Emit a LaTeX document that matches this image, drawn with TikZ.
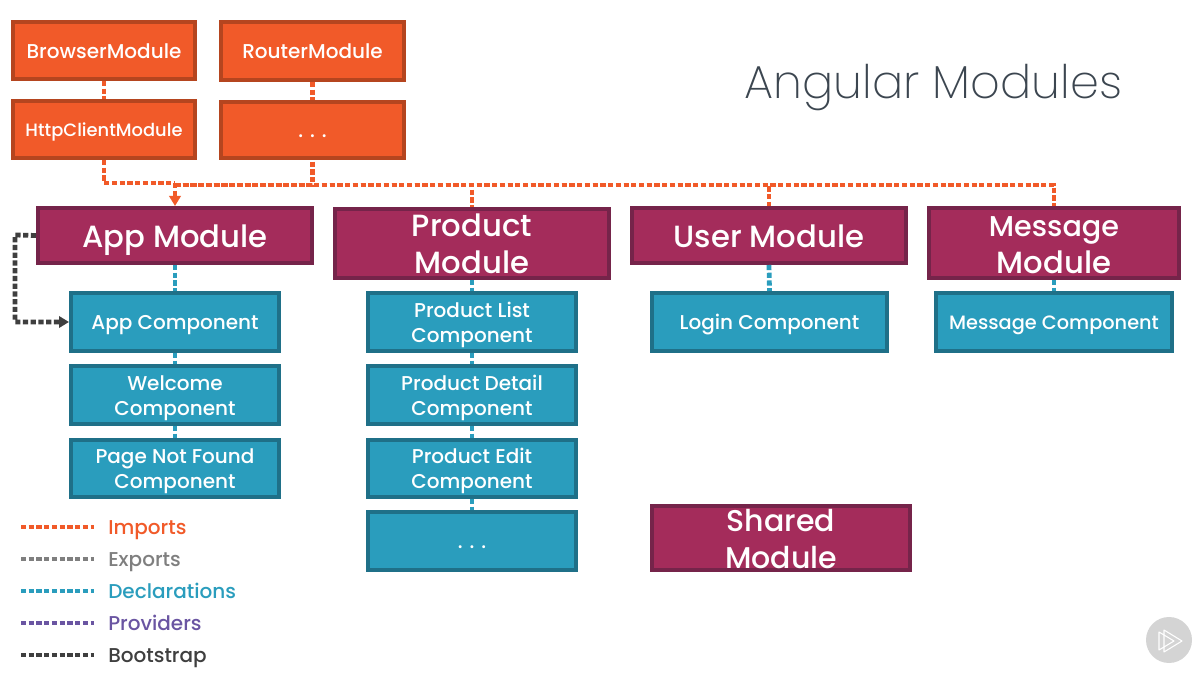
\documentclass[tikz,border=0pt]{standalone}
\usepackage{fontspec}
\usetikzlibrary{arrows.meta}
\setmainfont{Poppins Medium}
\newfontfamily\thinfont{Poppins ExtraLight}
\newcommand\tl[1]{\smash{\raisebox{-0.39em}{#1}}}
\definecolor{org}{HTML}{F15A29}\definecolor{orgd}{HTML}{B5451F}
\definecolor{mar}{HTML}{A42C5B}\definecolor{mard}{HTML}{75244A}
\definecolor{tea}{HTML}{2A9DBD}\definecolor{tead}{HTML}{1F7088}
\definecolor{gry}{HTML}{7F7F7F}\definecolor{pur}{HTML}{6A55A2}\definecolor{drk}{HTML}{3F3F3F}
\definecolor{ttl}{HTML}{3C4650}
\tikzset{
 sz/.style 2 args={minimum width=#1*0.75pt-3pt,minimum height=#2*0.75pt-3pt},
 box/.style={draw,line width=3pt,inner sep=0pt,align=center,text=white},
 orgbox/.style={box,fill=org,draw=orgd,font=\fontsize{15}{18}\selectfont},
 marbox/.style={box,fill=mar,draw=mard,font=\fontsize{23}{27.75}\selectfont},
 teabox/.style={box,fill=tea,draw=tead,font=\fontsize{15}{18.75}\selectfont},
 link/.style={line width=3.6pt,dash pattern=on 3.9pt off 1.9pt},
 imp/.style={link,draw=org},
 dec/.style={link,draw=tea},
 boot/.style={link,draw=drk},
 legtext/.style={anchor=west,inner sep=0pt,font=\fontsize{15}{18}\selectfont},
}
\begin{document}
\begin{tikzpicture}[x=0.75pt,y=-0.75pt]
\useasboundingbox (0,0) rectangle (1197,673);
\fill[white] (0,0) rectangle (1197,673);
\coordinate (j0) at (175,183);
\coordinate (j1) at (175,185);
\coordinate (bt) at (15,235);
% boxes
\node[orgbox,sz={186}{61}] (browser) at (104,50.5) {\tl{BrowserModule}};
\node[orgbox,sz={186}{61},font=\fontsize{13.4}{18}\selectfont] (http) at (104,129.5) {\tl{HttpClientModule}};
\node[orgbox,sz={187}{62}] (router) at (312.5,51) {\tl{RouterModule}};
\node[orgbox,sz={187}{60}] (more) at (312.5,130) {\tl{. . .}};
\node[marbox,sz={278}{59}] (app) at (175,235.5) {\tl{App Module}};
\node[marbox,sz={278}{73}] (prod) at (472,243.5) {\tl{Product}\\\tl{Module}};
\node[marbox,sz={278}{59}] (user) at (769,235.5) {\tl{User Module}};
\node[marbox,sz={254}{74}] (msg) at (1054,243) {\tl{\fontsize{21.5}{27.75}\selectfont Message}\\\tl{Module}};
\node[marbox,sz={262}{68},font=\fontsize{22.5}{27.75}\selectfont] (shared) at (781,538) {\tl{Shared}\\\tl{Module}};
\node[teabox,sz={212}{62}] (appc) at (175,322) {\tl{App Component}};
\node[teabox,sz={212}{62}] (welc) at (175,395) {\tl{Welcome}\\\tl{Component}};
\node[teabox,sz={212}{61}] (pnf) at (175,468.5) {\tl{Page Not Found}\\\tl{Component}};
\node[teabox,sz={212}{62}] (plist) at (472,322) {\tl{Product List}\\\tl{Component}};
\node[teabox,sz={212}{62}] (pdet) at (472,395) {\tl{Product Detail}\\\tl{Component}};
\node[teabox,sz={212}{61}] (pedit) at (472,468.5) {\tl{Product Edit}\\\tl{Component}};
\node[teabox,sz={212}{62}] (pmore) at (472,541) {\tl{. . .}};
\node[teabox,sz={239}{62}] (login) at (769.5,322) {\tl{Login Component}};
\node[teabox,sz={240}{62},font=\fontsize{14.5}{18.75}\selectfont] (msgc) at (1054,322) {\tl{Message Component}};
% imports
\draw[imp] (browser) -- (http);
\draw[imp] (router) -- (more);
\draw[imp] (http.south) |- (j0);
\draw[imp,dash phase=4.5pt] (more.south) |- (j1);
\draw[imp] (j1) -| (prod.north);
\draw[imp] (j1) -| (user.north);
\draw[imp] (j1) -| (msg.north);
\draw[imp,-{Triangle[length=7.5pt,width=8.5pt]}] (j0) -- (app.north);
% declarations
\draw[dec] (app) -- (appc);
\draw[dec] (appc) -- (welc);
\draw[dec] (welc) -- (pnf);
\draw[dec] (prod) -- (plist);
\draw[dec] (plist) -- (pdet);
\draw[dec] (pdet) -- (pedit);
\draw[dec] (pedit) -- (pmore);
\draw[dec] (user.south) -- (login.north);
\draw[dec] (msg) -- (msgc);
% bootstrap
\draw[boot,-{Triangle[length=7.5pt,width=8.5pt]}] (app.west) -- (bt) |- (appc.west);
% title
\node[inner sep=0pt,text=ttl,font=\thinfont\fontsize{34.7}{40}\selectfont] (title) at (933.5,80.5) {\tl{Angular Modules}};
% legend
\foreach \nm/\y/\col/\txt in {a/527/org/Imports,b/559/gry/Exports,c/591/tea/Declarations,d/623/pur/Providers,e/655/drk/Bootstrap}{
  \coordinate (l\nm) at (21,\y);
  \node[legtext,text=\col] (t\nm) at (108,\y) {\tl{\txt}};
  \draw[link,draw=\col] (l\nm) -- ++(73,0);
}
% logo
\node[circle,fill=black!17,minimum size=34.5pt,inner sep=0pt] (logo) at (1169,640) {};
\draw[white,line width=0.8pt,line join=round] (1159,632) -- (1159,650) -- (1174,641) -- cycle;
\draw[white,line width=0.8pt,line join=round] (1164,630) -- (1164,652) -- (1182,641) -- cycle;
\end{tikzpicture}
\end{document}
